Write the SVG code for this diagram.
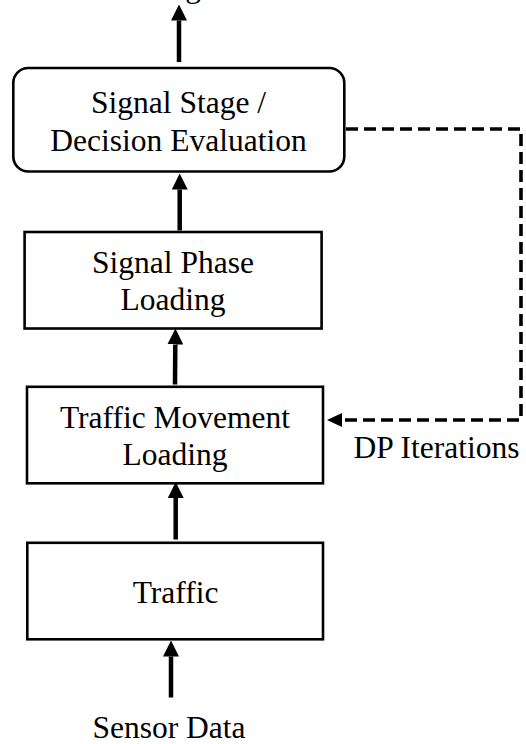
<svg xmlns="http://www.w3.org/2000/svg" width="526" height="744" viewBox="0 0 526 744">
  <style>
    .box { fill: #ffffff; stroke: #000000; stroke-width: 2.6; }
    .lbl { font-family: "Liberation Serif", "Times New Roman", serif; font-size: 31.5px; fill: #000000; text-anchor: middle; }
    .flow { stroke: #000000; stroke-width: 4.5; fill: none; }
    .loop { stroke: #000000; stroke-width: 3.6; fill: none; stroke-dasharray: 12 6; }
  </style>
  <defs>
    <marker id="head" markerUnits="userSpaceOnUse" markerWidth="16" markerHeight="16" viewBox="0 0 16 16" refX="0" refY="8" orient="auto">
      <path d="M0,0 L16,8 L0,16 Z" fill="#000000"/>
    </marker>
    <marker id="headSmall" markerUnits="userSpaceOnUse" markerWidth="15" markerHeight="14" viewBox="0 0 15 14" refX="0" refY="7" orient="auto">
      <path d="M0,0 L15,7 L0,14 Z" fill="#000000"/>
    </marker>
  </defs>

  <!-- output label above the top arrow; it sits past the upper edge, only the descender shows -->
  <text class="lbl" x="201" y="-3" style="text-anchor:end">Timing</text>

  <g id="node-decision">
    <rect class="box" x="13.3" y="68" width="331" height="103.5" rx="15" ry="15"/>
    <text class="lbl" x="178.5" y="113">Signal Stage /</text>
    <text class="lbl" x="178.5" y="151">Decision Evaluation</text>
  </g>

  <g id="node-phase">
    <rect class="box" x="24.6" y="232" width="297" height="96.5"/>
    <text class="lbl" x="173" y="273">Signal Phase</text>
    <text class="lbl" x="173" y="310">Loading</text>
  </g>

  <g id="node-movement">
    <rect class="box" x="27" y="386.8" width="296" height="96.5"/>
    <text class="lbl" x="175" y="428">Traffic Movement</text>
    <text class="lbl" x="175" y="465">Loading</text>
  </g>

  <g id="node-traffic">
    <rect class="box" x="27.3" y="542.8" width="295.7" height="96.5"/>
    <text class="lbl" x="175.5" y="602.5">Traffic</text>
  </g>

  <text class="lbl" x="169" y="737.5">Sensor Data</text>
  <text class="lbl" x="436.5" y="458.3">DP Iterations</text>

  <g id="connectors">
    <!-- solid flow, bottom to top -->
    <line class="flow" x1="171" y1="697.5" x2="171" y2="656.5" marker-end="url(#head)"/>
    <line class="flow" x1="175.7" y1="539.5" x2="175.7" y2="498" marker-end="url(#head)"/>
    <line class="flow" x1="175" y1="384.5" x2="175.3" y2="344.5" marker-end="url(#head)"/>
    <line class="flow" x1="179.7" y1="230.5" x2="179.7" y2="189.5" marker-end="url(#head)"/>
    <line class="flow" x1="179" y1="62" x2="179" y2="20.5" marker-end="url(#head)"/>
    <!-- dashed feedback loop -->
    <path class="loop" d="M346,129 H521 V420 H342" marker-end="url(#headSmall)"/>
  </g>
</svg>
